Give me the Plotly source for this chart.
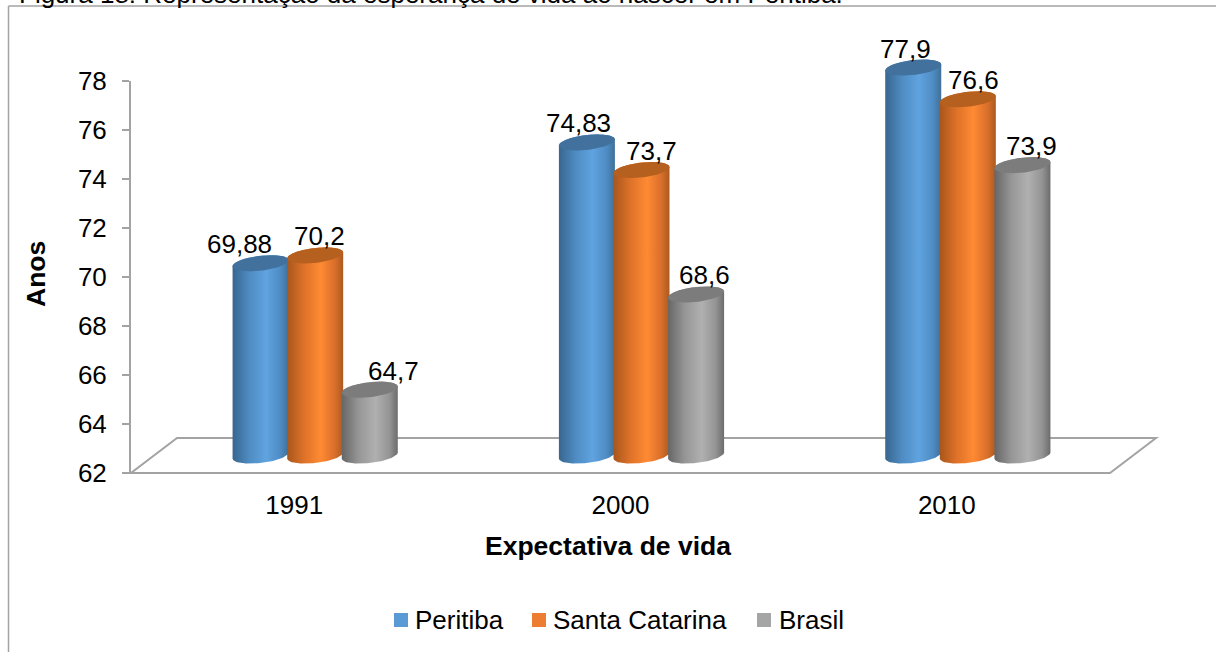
import numpy as np
import plotly.graph_objects as go

categories = ["1991", "2000", "2010"]
series_names = ["Peritiba", "Santa Catarina", "Brasil"]
peritiba = [69.88, 74.83, 77.9]
santa_catarina = [70.2, 73.7, 76.6]
brasil = [64.7, 68.6, 73.9]
value_labels = [["69,88", "74,83", "77,9"], ["70,2", "73,7", "76,6"], ["64,7", "68,6", "73,9"]]
y_ticks = [62, 64, 66, 68, 70, 72, 74, 76, 78]
caption = "Figura 18: Representação da esperança de vida ao nascer em Peritiba."
x_title = "Expectativa de vida"
y_title = "Anos"

W, H = 1216, 652
FONT = "Liberation Sans"
GREY = "#a3a3a3"
series_values = [peritiba, santa_catarina, brasil]
legend_colors = ["#5b9bd5", "#ed7d31", "#a5a5a5"]
legend_swatch_px = [394, 532, 757]
legend_text_px = [414, 552, 778]
body_scales = [
    [[0, "#38668f"], [0.3, "#4f8cc2"], [0.6, "#5fa3e0"], [0.85, "#4f8cc4"], [1, "#3f7098"]],
    [[0, "#a8561c"], [0.3, "#de7229"], [0.6, "#ff8a33"], [0.85, "#d96f2b"], [1, "#ac5a20"]],
    [[0, "#666666"], [0.3, "#969696"], [0.6, "#b0b0b0"], [0.85, "#949494"], [1, "#6c6c6c"]],
]
top_colors = ["#41719c", "#b5601f", "#7c7c7c"]
label_dx = [[-21, -8, -8], [4, 10, 6], [24, 8, 9]]

PX_L, PX_R, PX_T, PX_B = 131, 1110, 81, 473      # front plane of the axes
DX, BASE_PX, UNIT_PX = 21, 455.5, 24.4           # bars stand deeper on the floor
CAT_PX = (PX_R - PX_L) / 3
SPACING = 54.6 / CAT_PX
RX, RY, TILT = 28 / CAT_PX, 7.5 / UNIT_PX, 3 / UNIT_PX
Y2_LO, Y2_HI = 61, 79.5


def xf(px):
    return px / W


def yf(px):
    return 1 - px / H


fig = go.Figure()
# keeps the front-plane axes (ticks, labels, axis line) on the page
fig.add_scatter(x=[0, 1, 2], y=[62, 62, 62], mode="markers", marker_opacity=0,
                showlegend=False, hoverinfo="skip", xaxis="x", yaxis="y")
t_up = np.linspace(0, np.pi, 60)
t_low = np.linspace(np.pi, 2 * np.pi, 60)
for s, (name, vals) in enumerate(zip(series_names, series_values)):
    off = (s - 1) * SPACING
    fig.add_bar(
        x=list(range(3)), y=[v - 62 for v in vals], base=62, name=name,
        width=0.15, offset=off - 0.075, marker_color=legend_colors[s],
        marker_line_width=0, xaxis="x2", yaxis="y2", hoverinfo="name+text",
        hovertext=value_labels[s], showlegend=False,
    )
    for c, v in enumerate(vals):
        cx = c + off
        bx = np.r_[cx + RX * np.cos(t_low), cx + RX * np.cos(t_up)]
        by = np.r_[62 + RY * np.sin(t_low) + TILT * np.cos(t_low),
                   v + RY * np.sin(t_up) + TILT * np.cos(t_up)]
        fig.add_scatter(
            x=bx, y=by, mode="lines", line_width=0, fill="toself", showlegend=False,
            fillgradient=dict(type="horizontal", colorscale=body_scales[s]),
            xaxis="x2", yaxis="y2", hoverinfo="skip",
        )
        t = np.linspace(0, 2 * np.pi, 80)
        fig.add_scatter(
            x=cx + RX * np.cos(t), y=v + RY * np.sin(t) + TILT * np.cos(t),
            mode="lines", line_width=0, fill="toself", fillcolor=top_colors[s],
            showlegend=False, xaxis="x2", yaxis="y2", hoverinfo="skip",
        )

annotations = [
    dict(text=caption, xref="paper", yref="paper", x=xf(17), y=yf(11), xanchor="left",
         yanchor="bottom", showarrow=False, font=dict(size=26, family=FONT, color="#000")),
    dict(text=x_title, xref="paper", yref="paper", x=xf(608), y=yf(546), showarrow=False,
         xanchor="center", yanchor="middle",
         font=dict(size=26.5, family=FONT, color="#000", weight="bold")),
    dict(text=y_title, xref="paper", yref="paper", x=xf(36), y=yf(274), showarrow=False,
         xanchor="center", yanchor="middle", textangle=-90,
         font=dict(size=26.5, family=FONT, color="#000", weight="bold")),
]
for s, vals in enumerate(series_values):
    for c, v in enumerate(vals):
        annotations.append(dict(
            text=value_labels[s][c], x=c + (s - 1) * SPACING, y=v, xref="x2", yref="y2",
            xshift=label_dx[s][c], yshift=19, showarrow=False,
            font=dict(size=26, family=FONT, color="#000"),
        ))

line = dict(color=GREY, width=2)
shapes = [
    dict(type="path", xref="paper", yref="paper", layer="below", line=line,
         path=f"M{xf(PX_L)},{yf(PX_B)}L{xf(PX_R)},{yf(PX_B)}L{xf(1156)},{yf(438)}"
              f"L{xf(177)},{yf(438)}Z"),
    dict(type="line", xref="paper", yref="paper", x0=xf(8.5), x1=xf(8.5), y0=0, y1=yf(6),
         line=dict(color=GREY, width=1.5), layer="below"),
    dict(type="line", xref="paper", yref="paper", x0=xf(8.5), x1=1, y0=yf(6), y1=yf(6),
         line=dict(color=GREY, width=1.5), layer="below"),
]
for s, name in enumerate(series_names):
    shapes.append(dict(type="rect", xref="paper", yref="paper", x0=xf(legend_swatch_px[s]),
                       x1=xf(legend_swatch_px[s] + 14), y0=yf(627), y1=yf(613),
                       fillcolor=legend_colors[s], line_width=0))
    annotations.append(dict(text=name, xref="paper", yref="paper", x=xf(legend_text_px[s] - 1),
                            y=yf(620), xanchor="left", yanchor="middle", showarrow=False,
                            font=dict(size=26, family=FONT, color="#000")))

fig.update_layout(
    width=W, height=H, margin=dict(l=0, r=0, t=0, b=0), autosize=False,
    paper_bgcolor="white", plot_bgcolor="rgba(0,0,0,0)", barmode="overlay",
    font=dict(family=FONT, size=26, color="#000"),
    annotations=annotations, shapes=shapes, showlegend=False,
    xaxis=dict(domain=[xf(PX_L), xf(PX_R)], range=[-0.5, 2.5], tickvals=[0, 1, 2],
               ticktext=categories, ticks="", showgrid=False, zeroline=False, automargin=False,
               showline=False, anchor="y", ticklabelstandoff=14),
    yaxis=dict(domain=[yf(PX_B), yf(PX_T)], range=[62, 78], tickvals=y_ticks, ticks="outside",
               ticklen=7, tickcolor=GREY, tickwidth=2, showline=True, linecolor=GREY, linewidth=2,
               showgrid=False, zeroline=False, anchor="x", ticklabelstandoff=10, automargin=False),
    xaxis2=dict(domain=[xf(PX_L + DX), xf(PX_R + DX)], range=[-0.5, 2.5], visible=False,
                anchor="y2", automargin=False),
    yaxis2=dict(domain=[yf(BASE_PX + (62 - Y2_LO) * UNIT_PX), yf(BASE_PX - (Y2_HI - 62) * UNIT_PX)],
                range=[Y2_LO, Y2_HI], visible=False, anchor="x2", automargin=False),
)
fig.write_html("out.html", config={"displayModeBar": False},
               post_script="document.body.style.margin='0';")
